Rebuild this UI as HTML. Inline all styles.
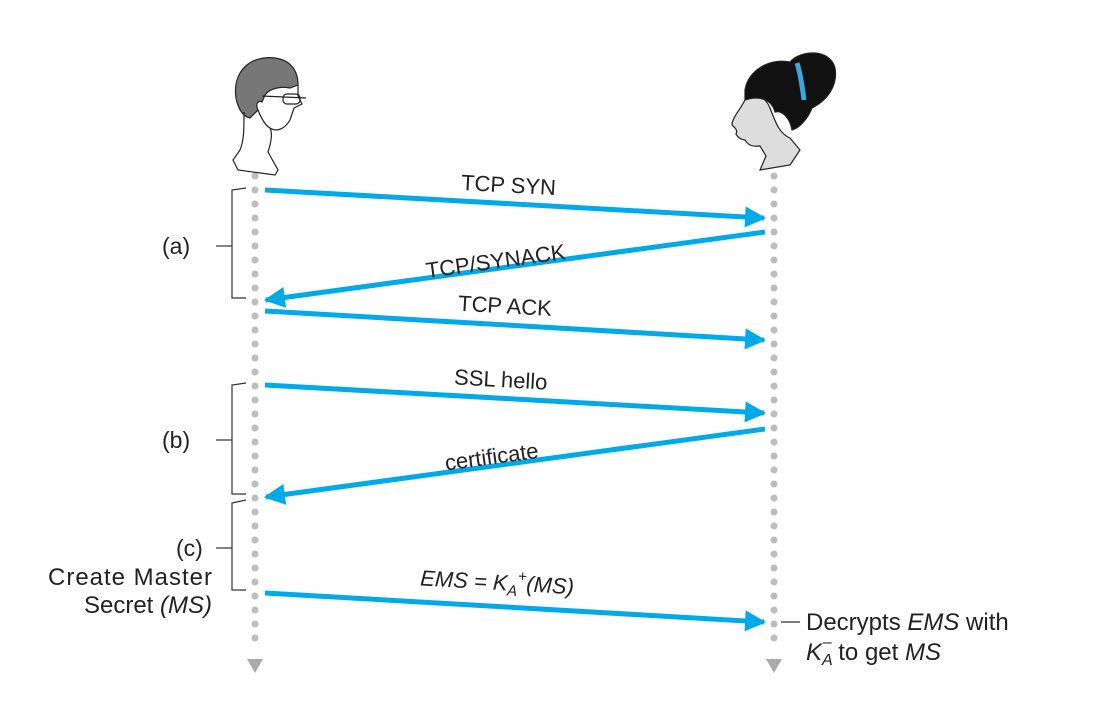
<!DOCTYPE html>
<html><head><meta charset="utf-8"><style>body{margin:0;background:#fff}svg{display:block}</style></head><body>
<svg width="1108" height="706" viewBox="0 0 1108 706" xmlns="http://www.w3.org/2000/svg" font-family="Liberation Sans, sans-serif">
<defs>
<marker id="ah" viewBox="0 0 10 10" refX="9" refY="5" markerWidth="5.4" markerHeight="4.2" orient="auto" markerUnits="strokeWidth"><path d="M0,0 L10,5 L0,10 z" fill="#00a9e8"/></marker>
</defs>
<line x1="255" y1="176" x2="255" y2="652" stroke="#bdbdbd" stroke-width="7" stroke-linecap="round" stroke-dasharray="0 14"/>
<line x1="774" y1="176" x2="774" y2="652" stroke="#bdbdbd" stroke-width="7" stroke-linecap="round" stroke-dasharray="0 14"/>
<path d="M247,659 L263,659 L255,673 z" fill="#aaa"/>
<path d="M766,659 L782,659 L774,673 z" fill="#aaa"/>
<g stroke="#222" stroke-width="1.2" fill="none">
<path d="M236,98 C232,70 252,55 275,58 C290,60 298,70 298,85 L290,88 C282,86 270,88 265,95 L262,102 C258,100 255,104 258,110 L250,118 C242,116 238,108 236,98 z" fill="#777"/>
<path d="M258,110 C262,120 266,126 270,128 C276,132 284,130 290,120 L294,108 L302,104 L298,96 L298,85"/>
<path d="M244,112 C244,130 244,140 240,150 L233,160 L238,170 L275,175 L278,170 L268,152 C272,140 272,132 270,128"/>
<path d="M262,96 L306,98"/><rect x="283" y="94" width="17" height="10" rx="4"/>
</g>
<g stroke="#222" stroke-width="1.2">
<path d="M745,100 C740,110 732,118 732,125 C735,128 738,130 736,134 C738,138 742,140 745,140 C748,145 752,147 760,146 L766,156 L760,170 L790,165 L800,150 L790,138 C780,134 776,124 770,108 C765,96 755,92 745,100 z" fill="#ddd"/>
<path d="M745,90 C748,70 770,58 790,62 C800,50 830,48 835,68 C838,85 828,100 812,108 C808,118 800,128 792,130 C790,118 782,110 775,112 C772,100 760,95 745,100 z" fill="#111"/>
<path d="M797,63 C800,72 802,84 804,100" stroke="#3aa8e0" stroke-width="5" fill="none"/>
</g>
<g stroke="#00a9e8" stroke-width="5" marker-end="url(#ah)">
<line x1="265" y1="190" x2="764" y2="218"/>
<line x1="765" y1="232" x2="266" y2="300"/>
<line x1="265" y1="311" x2="764" y2="340"/>
<line x1="265" y1="385" x2="764" y2="413"/>
<line x1="765" y1="429" x2="266" y2="497"/>
<line x1="265" y1="593" x2="764" y2="622"/>
</g>
<g stroke="#333" stroke-width="1.2" fill="none">
<path d="M246,188 L232,190 L232,298 L246,298"/><line x1="216" y1="246" x2="232" y2="246"/>
<path d="M246,383 L232,385 L232,494 L246,494"/><line x1="216" y1="440" x2="232" y2="440"/>
<path d="M246,500 L232,503 L232,590 L246,590"/><line x1="216" y1="548" x2="232" y2="548"/>
<line x1="781" y1="622" x2="800" y2="622"/>
</g>
<g font-size="22" fill="#222">
<text x="162" y="254" font-size="23">(a)</text><text x="162" y="448" font-size="23">(b)</text><text x="176" y="556" font-size="23">(c)</text>
<text x="212" y="585" text-anchor="end" font-size="24" textLength="164">Create Master</text>
<text x="212" y="613" text-anchor="end" font-size="24">Secret <tspan font-style="italic">(MS)</tspan></text>
<text x="461" y="192" transform="rotate(3.2 500 186)">TCP SYN</text>
<text x="425" y="268" transform="rotate(-7.8 500 258)">TCP/SYNACK</text>
<text x="458" y="313" transform="rotate(3.3 500 308)">TCP ACK</text>
<text x="454" y="387" transform="rotate(3.2 500 382)">SSL hello</text>
<text x="444" y="463" transform="rotate(-7.8 500 452)">certificate</text>
<text x="420" y="590" font-style="italic" transform="rotate(3.3 500 586)">EMS = K<tspan font-size="15" dy="5">A</tspan><tspan font-size="15" dy="-15">+</tspan><tspan dy="10">(MS)</tspan></text>
<g font-size="24">
<text x="806" y="630">Decrypts <tspan font-style="italic">EMS</tspan> with</text>
<text x="806" y="660"><tspan font-style="italic">K</tspan><tspan font-size="16" font-style="italic" dy="5">A</tspan><tspan font-size="16" dx="-10" dy="-18">–</tspan><tspan dy="13"> to get </tspan><tspan font-style="italic">MS</tspan></text>
</g>
</g>
</svg>
</body></html>
